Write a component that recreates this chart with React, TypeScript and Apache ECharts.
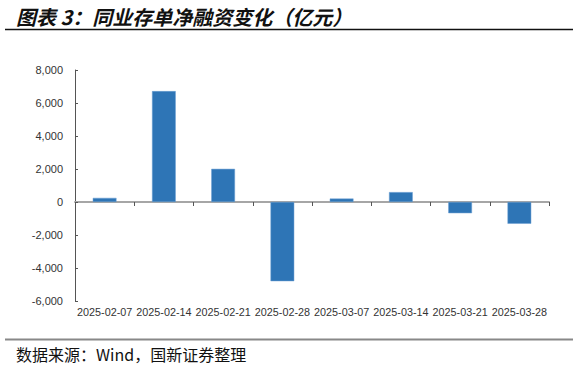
import React, { useEffect, useRef } from "react";
import * as echarts from "echarts";

const categories = [
  "2025-02-07",
  "2025-02-14",
  "2025-02-21",
  "2025-02-28",
  "2025-03-07",
  "2025-03-14",
  "2025-03-21",
  "2025-03-28",
];
const netFinancing = [250, 6720, 2010, -4800, 210, 600, -680, -1320];
const yMin = -6000;
const yMax = 8000;
const yInterval = 2000;

const titleText = "图表 3：同业存单净融资变化（亿元）";
const sourceText = "数据来源：Wind，国新证券整理";

export default function App() {
  const ref = useRef<HTMLDivElement>(null);
  useEffect(() => {
    if (!ref.current) return;
    document.body.style.margin = "0";
    const chart = echarts.init(ref.current, null, { renderer: "svg" });
    chart.setOption({
      animation: false,
      backgroundColor: "#ffffff",
      grid: { left: 75, right: 29, top: 70, bottom: 66, containLabel: false },
      xAxis: {
        type: "category",
        data: categories,
        axisLine: { onZero: true, lineStyle: { color: "#a6a6a6", width: 2 } },
        axisTick: { show: true, inside: false, length: 4, lineStyle: { color: "#555", width: 1 } },
        axisLabel: {
          interval: 0,
          color: "#333",
          fontFamily: "Liberation Sans, Arial, sans-serif",
          fontSize: 10.8,
          margin: 5,
        },
        position: "bottom",
      },
      yAxis: {
        type: "value",
        min: yMin,
        max: yMax,
        interval: yInterval,
        axisLine: { show: true, lineStyle: { color: "#555", width: 1 } },
        axisTick: { show: true, inside: true, length: 3, lineStyle: { color: "#555" } },
        splitLine: { show: false },
        axisLabel: {
          color: "#333",
          fontFamily: "Liberation Sans, Arial, sans-serif",
          fontSize: 11,
          margin: 12,
          formatter: (v: number) => v.toLocaleString("en-US"),
        },
      },
      series: [
        {
          type: "bar",
          data: netFinancing,
          barWidth: "40%",
          itemStyle: { color: "#2e75b6", borderColor: "#6a9fd3", borderWidth: 0.5 },
        },
      ],
      graphic: [
        {
          type: "text",
          x: 16,
          y: 16,
          style: {
            text: titleText,
            font: "italic bold 20px 'Noto Sans CJK SC', sans-serif",
            fill: "#111",
            verticalAlign: "middle",
          },
        },
        {
          type: "line",
          shape: { x1: 5, y1: 29.5, x2: 573, y2: 29.5 },
          style: { stroke: "#111", lineWidth: 1.5 },
        },
        {
          type: "line",
          shape: { x1: 5, y1: 339.5, x2: 573, y2: 339.5 },
          style: { stroke: "#888", lineWidth: 2 },
        },
        {
          type: "text",
          x: 16,
          y: 354,
          style: {
            text: sourceText,
            font: "16px 'Noto Sans CJK SC', sans-serif",
            fill: "#111",
            verticalAlign: "middle",
          },
        },
      ],
    });
    return () => chart.dispose();
  }, []);
  return (
    <div
      ref={ref}
      style={{ position: "absolute", left: 0, top: 0, width: 578, height: 367 }}
    />
  );
}
